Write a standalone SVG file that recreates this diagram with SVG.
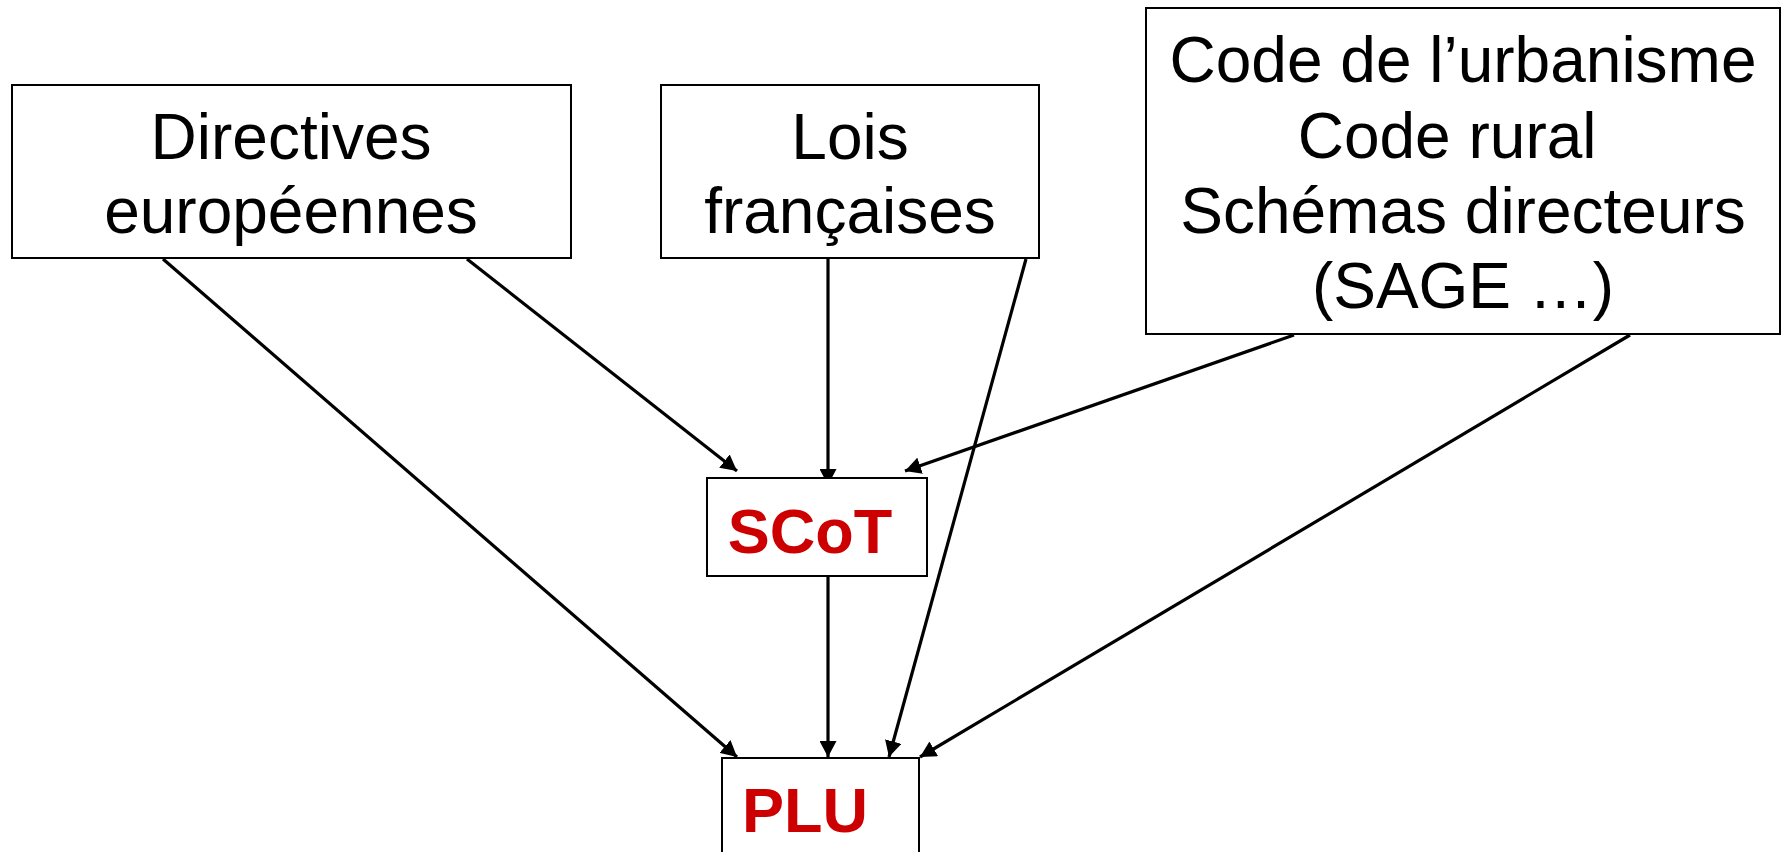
<svg xmlns="http://www.w3.org/2000/svg" width="1785" height="852" viewBox="0 0 1785 852">
  <style>
    .box { fill: #ffffff; stroke: #000000; stroke-width: 2; }
    .lbl { font-family: "Liberation Sans", Arial, sans-serif; font-size: 64px; fill: #000000; text-anchor: middle; white-space: pre; }
    .red { font-family: "Liberation Sans", Arial, sans-serif; font-size: 63px; font-weight: bold; fill: #CC0000; text-anchor: middle; }
    .edge { stroke: #000000; stroke-width: 3.2; fill: none; marker-end: url(#arrow); }
  </style>
  <defs>
    <marker id="arrow" markerUnits="userSpaceOnUse" markerWidth="17" markerHeight="17" refX="16" refY="8.5" orient="auto" viewBox="0 0 17 17">
      <path d="M0,0 L16,8.5 L0,17 z" fill="#000000"/>
    </marker>
  </defs>
  <rect width="1785" height="852" fill="#ffffff"/>

  <g id="connectors">
    <line class="edge" x1="163" y1="259" x2="737" y2="757"/>
    <line class="edge" x1="467" y1="259" x2="737" y2="471"/>
    <line class="edge" x1="828" y1="259" x2="828" y2="485"/>
    <line class="edge" x1="1026" y1="259" x2="889" y2="757"/>
    <line class="edge" x1="1294" y1="335" x2="905" y2="471"/>
    <line class="edge" x1="1630" y1="335" x2="920" y2="757"/>
    <line class="edge" x1="828" y1="576" x2="828" y2="757"/>
  </g>

  <g id="directives">
    <rect class="box" x="12" y="85" width="559" height="173"/>
    <text class="lbl" x="291" y="159">Directives</text>
    <text class="lbl" x="291" y="233">européennes</text>
  </g>

  <g id="lois">
    <rect class="box" x="661" y="85" width="378" height="173"/>
    <text class="lbl" x="850" y="159">Lois</text>
    <text class="lbl" x="850" y="233">françaises</text>
  </g>

  <g id="codes">
    <rect class="box" x="1146" y="8" width="634" height="326"/>
    <text class="lbl" x="1463" y="82">Code de l’urbanisme</text>
    <text class="lbl" x="1456" y="158">Code rural </text>
    <text class="lbl" x="1463" y="233">Schémas directeurs</text>
    <text class="lbl" x="1463" y="308">(SAGE …)</text>
  </g>

  <g id="scot">
    <rect class="box" x="707" y="478" width="220" height="98"/>
    <text class="red" x="810" y="553">SCoT</text>
  </g>

  <g id="plu">
    <rect class="box" x="722" y="758" width="197" height="100"/>
    <text class="red" x="805" y="832">PLU</text>
  </g>
</svg>
